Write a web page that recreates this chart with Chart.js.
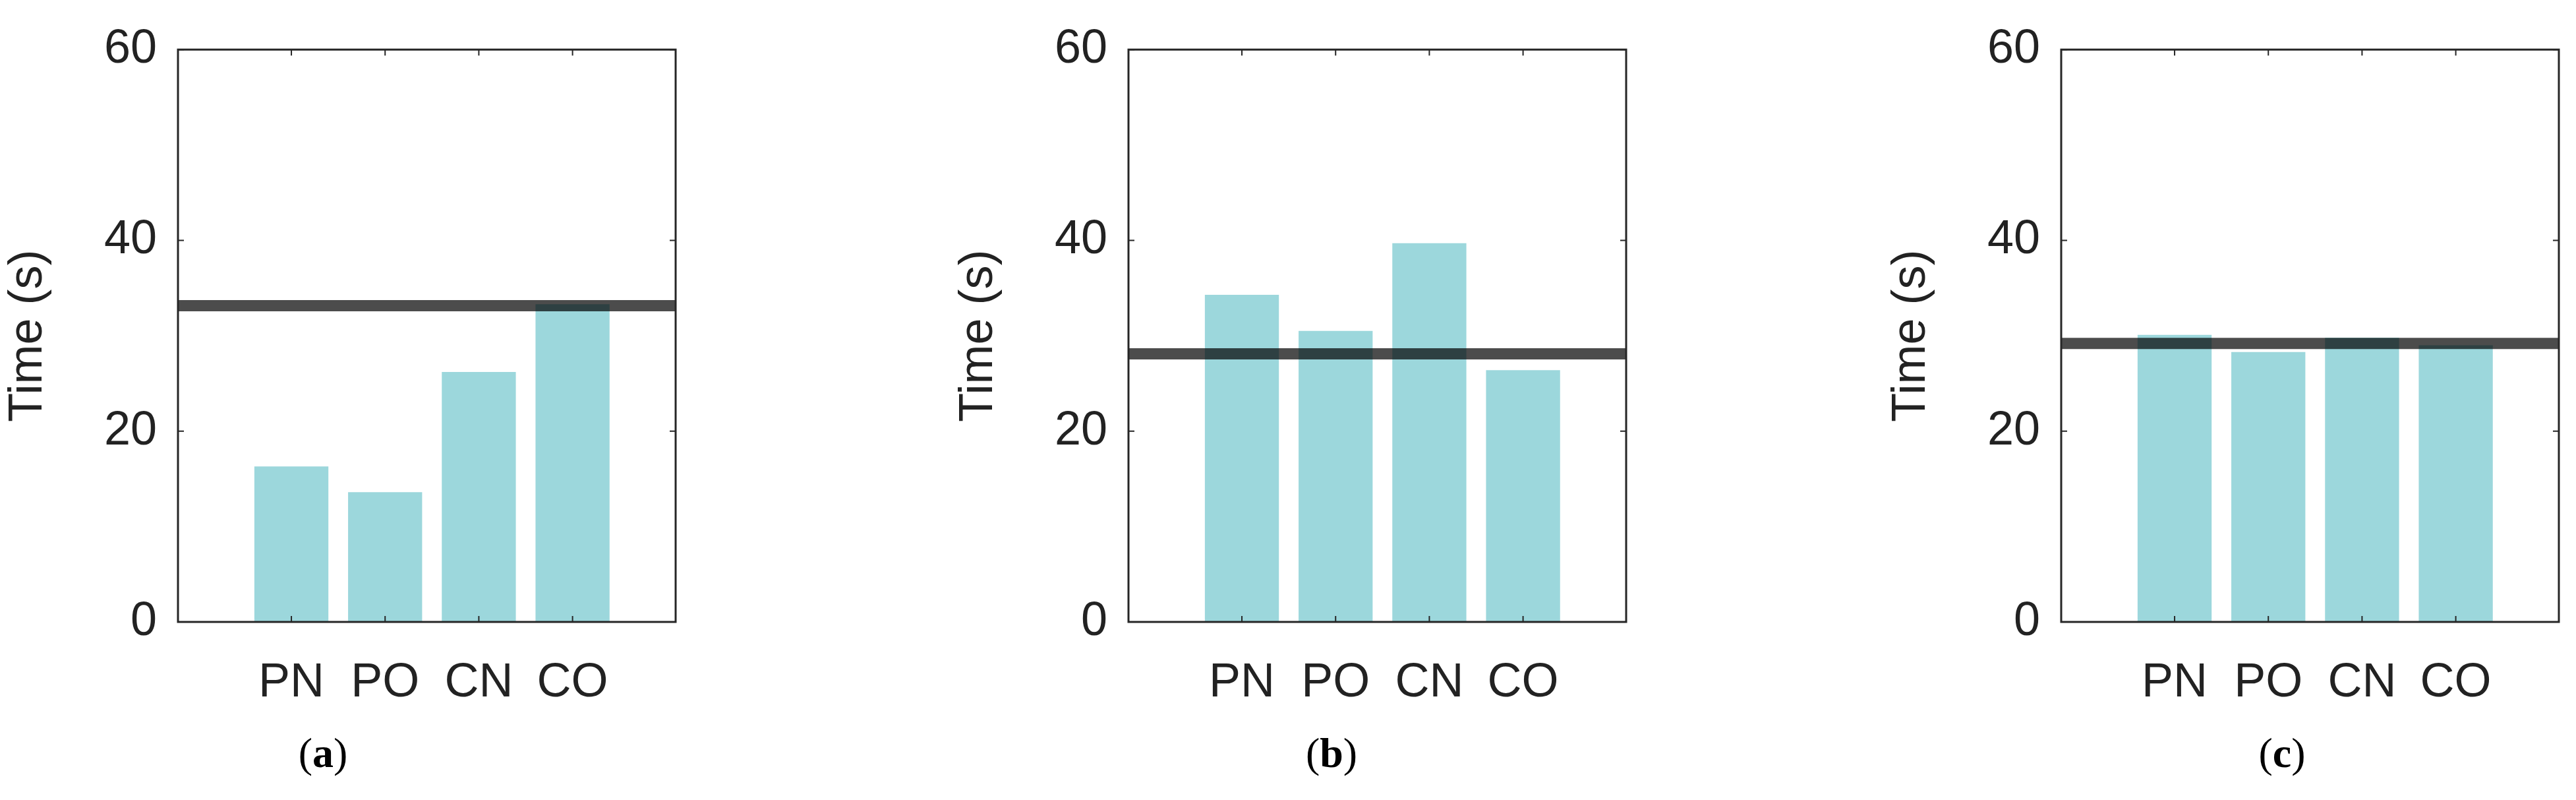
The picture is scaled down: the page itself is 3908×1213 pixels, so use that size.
<!DOCTYPE html>
<html><head><meta charset="utf-8">
<script src="https://cdn.jsdelivr.net/npm/chart.js@4/dist/chart.umd.min.js"></script>
<style>
html,body{margin:0;padding:0;background:#fff;width:3908px;height:1213px;overflow:hidden;position:relative}
.p{position:absolute;top:0;width:1040px;height:1213px}
.cap{position:absolute;top:1105px;font-family:"Liberation Serif","DejaVu Serif",serif;font-size:64px;color:#000;transform:translateX(-50%)}
</style></head><body>
<div class="p" style="left:0px"><canvas id="c0" width="1040" height="1213"></canvas></div>
<div class="p" style="left:1442px"><canvas id="c1" width="1040" height="1213"></canvas></div>
<div class="p" style="left:2857px"><canvas id="c2" width="1040" height="1213"></canvas></div>
<div class="cap" style="left:490px">(<b>a</b>)</div>
<div class="cap" style="left:2020px">(<b>b</b>)</div>
<div class="cap" style="left:3462px">(<b>c</b>)</div>
<script>
const categories = ["PN","PO","CN","CO"];
const valuesA = [16.3, 13.6, 26.2, 33.3];
const valuesB = [34.3, 30.5, 39.7, 26.4];
const valuesC = [30.1, 28.3, 29.8, 29.0];
const lineA = 33.15;
const lineB = 28.1;
const lineC = 29.2;
const yTicks = [0, 20, 40, 60];

const X_MIN = -0.21, X_MAX = 5.1;
const boxPlugin = {
  id:'box',
  afterDraw(chart){
    const {ctx, chartArea:a, scales} = chart;
    ctx.save();
    ctx.strokeStyle='#262626'; ctx.lineWidth=3;
    ctx.strokeRect(a.left, a.top, a.right-a.left, a.bottom-a.top);
    ctx.lineWidth=2;
    const L=9;
    categories.forEach((c,i)=>{
      const x=scales.x.getPixelForValue(i+1);
      ctx.beginPath();ctx.moveTo(x,a.bottom);ctx.lineTo(x,a.bottom-L);
      ctx.moveTo(x,a.top);ctx.lineTo(x,a.top+L);ctx.stroke();
    });
    yTicks.forEach(v=>{
      const y=scales.y.getPixelForValue(v);
      ctx.beginPath();ctx.moveTo(a.left,y);ctx.lineTo(a.left+L,y);
      ctx.moveTo(a.right,y);ctx.lineTo(a.right-L,y);ctx.stroke();
    });
    ctx.restore();
  }
};
function make(id, vals, ref){
  new Chart(document.getElementById(id), {
    data:{datasets:[
      {type:'line', data:[{x:X_MIN,y:ref},{x:X_MAX,y:ref}], borderColor:'rgba(0,0,0,0.7)', borderWidth:17, pointRadius:0, order:0},
      {type:'bar', data:vals.map((v,i)=>({x:i+1,y:v})), backgroundColor:'#9cd7dc', borderWidth:0, barPercentage:0.79, categoryPercentage:1, order:1}
    ]},
    options:{
      responsive:false, animation:false,
      layout:{padding:{left:0,right:15,top:58,bottom:0}},
      plugins:{legend:{display:false}, tooltip:{enabled:false}},
      scales:{
        x:{type:'linear', min:X_MIN, max:X_MAX, offset:false,
          afterBuildTicks(s){ s.ticks = categories.map((c,i)=>({value:i+1})); },
          afterFit(s){ s.height=270; },
          grid:{display:false, drawTicks:false}, border:{display:false},
          ticks:{padding:50, autoSkip:false, maxRotation:0, color:'#222',
            font:{family:'"Liberation Sans", Arial, sans-serif', size:72},
            callback:(v)=>categories[v-1] ?? ''}},
        y:{min:0, max:60,
          afterBuildTicks(s){ s.ticks = yTicks.map(v=>({value:v})); },
          afterFit(s){ s.width=270; },
          grid:{display:false, drawTicks:false}, border:{display:false},
          ticks:{padding:32, color:'#222', font:{family:'"Liberation Sans", Arial, sans-serif', size:72}},
          title:{display:true, text:'Time (s)', color:'#222', padding:{top:0,bottom:0},
            font:{family:'"Liberation Sans", Arial, sans-serif', size:72}}}
      }
    },
    plugins:[boxPlugin]
  });
}
make('c0', valuesA, lineA);
make('c1', valuesB, lineB);
make('c2', valuesC, lineC);
</script>
</body></html>
